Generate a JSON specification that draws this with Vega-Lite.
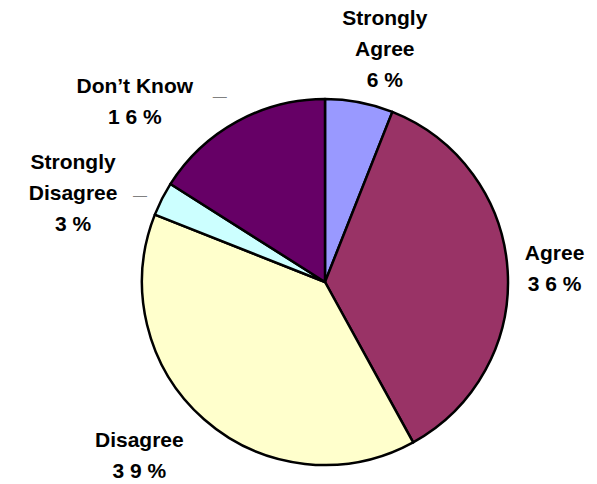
{
  "$schema": "https://vega.github.io/schema/vega-lite/v6.json",
  "width": 544,
  "height": 404,
  "autosize": {"type": "none"},
  "padding": {"left": 53, "top": 80, "right": 0, "bottom": 0},
  "background": "white",
  "view": {"stroke": null},
  "data": {
    "values": [
      {"rank": 1, "category": "Strongly Agree", "value": 6, "label": "Strongly\nAgree\n6 %"},
      {"rank": 2, "category": "Agree", "value": 36, "label": "Agree\n3 6 %"},
      {"rank": 3, "category": "Disagree", "value": 39, "label": "Disagree\n3 9 %"},
      {"rank": 4, "category": "Strongly Disagree", "value": 3, "label": "Strongly\nDisagree\n3 %"},
      {"rank": 5, "category": "Don’t Know", "value": 16, "label": "Don’t  Know\n1 6 %"}
    ]
  },
  "encoding": {
    "theta": {"field": "value", "type": "quantitative", "stack": true},
    "order": {"field": "rank", "type": "quantitative"}
  },
  "layer": [
    {
      "mark": {"type": "arc", "outerRadius": 183, "stroke": "black", "strokeWidth": 2.5, "strokeJoin": "round"},
      "encoding": {
        "color": {
          "field": "category",
          "type": "nominal",
          "scale": {
            "domain": ["Strongly Agree", "Agree", "Disagree", "Strongly Disagree", "Don’t Know"],
            "range": ["#9999FF", "#993366", "#FFFFCC", "#CCFFFF", "#660066"]
          },
          "legend": null
        }
      }
    },
    {
      "mark": {"type": "text", "radius": 239, "dx": 15, "dy": -28, "lineBreak": "\n", "font": "Liberation Sans", "fontSize": 21, "fontWeight": "bold", "lineHeight": 31, "align": "center", "baseline": "middle", "color": "black"},
      "encoding": {"text": {"condition": {"test": "datum.category === 'Strongly Agree'", "field": "label"}, "value": ""}}
    },
    {
      "mark": {"type": "text", "radius": 230, "dx": 0, "dy": -13.5, "lineBreak": "\n", "font": "Liberation Sans", "fontSize": 21, "fontWeight": "bold", "lineHeight": 31, "align": "center", "baseline": "middle", "color": "black"},
      "encoding": {"text": {"condition": {"test": "datum.category === 'Agree'", "field": "label"}, "value": ""}}
    },
    {
      "mark": {"type": "text", "radius": 255, "dx": -17, "dy": -32.5, "lineBreak": "\n", "font": "Liberation Sans", "fontSize": 21, "fontWeight": "bold", "lineHeight": 31, "align": "center", "baseline": "middle", "color": "black"},
      "encoding": {"text": {"condition": {"test": "datum.category === 'Disagree'", "field": "label"}, "value": ""}}
    },
    {
      "mark": {"type": "text", "radius": 267, "dx": -14, "dy": 2, "lineBreak": "\n", "font": "Liberation Sans", "fontSize": 21, "fontWeight": "bold", "lineHeight": 31, "align": "center", "baseline": "middle", "color": "black"},
      "encoding": {"text": {"condition": {"test": "datum.category === 'Strongly Disagree'", "field": "label"}, "value": ""}}
    },
    {
      "mark": {"type": "text", "radius": 262, "dx": -64, "dy": 34.5, "lineBreak": "\n", "font": "Liberation Sans", "fontSize": 21, "fontWeight": "bold", "lineHeight": 31, "align": "center", "baseline": "middle", "color": "black"},
      "encoding": {"text": {"condition": {"test": "datum.category === 'Don’t Know'", "field": "label"}, "value": ""}}
    },
    {
      "mark": {"type": "text", "radius": 267, "dx": 53, "dy": 35, "font": "Liberation Sans", "fontSize": 14, "align": "center", "baseline": "middle", "color": "#808080"},
      "encoding": {"text": {"condition": {"test": "datum.category === 'Strongly Disagree'", "value": "—"}, "value": ""}}
    },
    {
      "mark": {"type": "text", "radius": 262, "dx": 21, "dy": 44.5, "font": "Liberation Sans", "fontSize": 14, "align": "center", "baseline": "middle", "color": "#808080"},
      "encoding": {"text": {"condition": {"test": "datum.category === 'Don’t Know'", "value": "—"}, "value": ""}}
    }
  ]
}
